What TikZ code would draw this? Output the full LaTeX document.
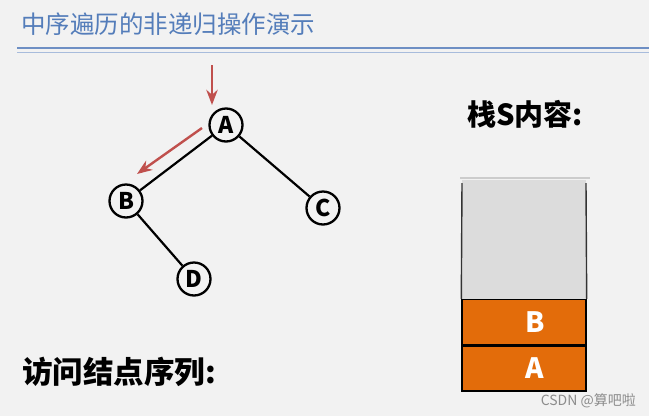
\documentclass[tikz,border=0pt]{standalone}
\usepackage{fontspec}
\newfontfamily\cjk{Noto Sans CJK SC}
\usepackage{tikz}
\usetikzlibrary{arrows.meta,positioning}
\definecolor{bg}{RGB}{242,242,242}
\definecolor{titelblau}{RGB}{84,125,186}
\definecolor{linieblau}{RGB}{110,143,196}
\definecolor{pfeilrot}{RGB}{192,80,77}
\definecolor{stapelgrau}{RGB}{220,220,220}
\definecolor{stapelorange}{RGB}{227,108,10}
\tikzset{>={Stealth[scale=1.1]}}
\tikzset{
  knoten/.style={circle, draw=black, line width=2.3pt, fill=bg, minimum size=33pt, inner sep=0pt, font=\cjk\bfseries\fontsize{23}{23}\selectfont},
  kante/.style={black, line width=2.2pt},
  zeiger/.style={->, pfeilrot, line width=2.4pt},
  zelle/.style={rectangle, draw=black, line width=1.4pt, fill=stapelorange, minimum width=124pt, minimum height=45pt, inner sep=0pt, text=white, font=\cjk\bfseries\fontsize{28}{28}\selectfont},
  ueberschrift/.style={anchor=west, inner sep=0pt, font=\cjk\bfseries\fontsize{29}{29}\selectfont}
}

\begin{document}
\begin{tikzpicture}[x=1pt, y=-1pt]
	\useasboundingbox (0,0) rectangle (649,416);
	\fill[bg] (0,0) rectangle (649,416);

	% titel
	\node[anchor=west, inner sep=0pt, titelblau, font=\cjk\fontsize{24.5}{24.5}\selectfont] (titel) at (21,24) {中序遍历的非递归操作演示};
	\draw[linieblau, line width=1.8pt] (17,48) -- (649,48);
	\draw[linieblau!60, line width=0.9pt] (17,52) -- (649,52);

	% baum
	\node[knoten] (A) at (226,125) {A};
	\node[knoten] (B) at (126,201) {B};
	\node[knoten] (C) at (323,208) {C};
	\node[knoten] (D) at (194,279) {D};
	\draw[kante] (A) -- (B);
	\draw[kante] (A) -- (C);
	\draw[kante] (B) -- (D);

	\coordinate (p1) at (212,65);
	\coordinate (p2) at (212,105);
	\coordinate (q1) at (202,128);
	\coordinate (q2) at (137,174);
	\draw[zeiger] (p1) -- (p2);
	\draw[zeiger] (q1) -- (q2);

	% stapel
	\node[ueberschrift] (stapeltitel) at (467,114) {栈S内容:};
	\fill[stapelgrau] (462,180) rectangle (586,301);
	\node[zelle] (zA) at (524,368.5) {\hspace*{22pt}A};
	\node[zelle, above=0pt of zA] (zB) {\hspace*{22pt}B};
	\draw[black!80, line width=1.4pt] (462,183) -- (zB.north west);
	\draw[black!80, line width=1.4pt] (586,183) -- (zB.north east);
	\draw[black!20, line width=2.5pt] (460,178) -- (590,178);

	\node[ueberschrift, font=\cjk\bfseries\fontsize{30.5}{30.5}\selectfont] (folge) at (22,372) {访问结点序列:};

	\node[anchor=east, inner sep=0pt, black!45, font=\cjk\fontsize{14}{14}\selectfont] (wz) at (636,401) {CSDN @算吧啦};
\end{tikzpicture}
\end{document}
